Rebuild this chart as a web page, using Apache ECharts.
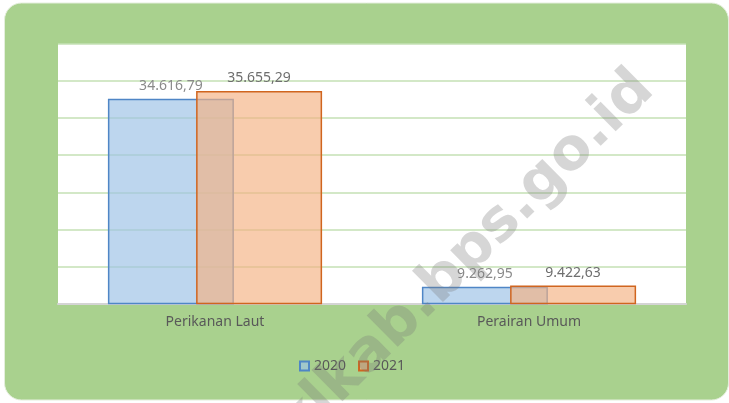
<!DOCTYPE html>
<html>
<head>
<meta charset="utf-8">
<script src="https://cdn.jsdelivr.net/npm/echarts@6/dist/echarts.min.js"></script>
<style>
  html, body { margin: 0; padding: 0; background: #fff; }
  #chart { width: 729px; height: 403px; }
</style>
</head>
<body>
<div id="chart"></div>
<script>
  var categories = ['Perikanan Laut', 'Perairan Umum'];
  var seriesNames = ['2020', '2021'];
  var values2020 = [34616.79, 9262.95];
  var values2021 = [35655.29, 9422.63];

  // angka gaya Indonesia: 34.616,79
  function fmt(v) {
    var parts = v.toFixed(2).split('.');
    return parts[0].replace(/\B(?=(\d{3})+(?!\d))/g, '.') + ',' + parts[1];
  }

  var font = '"Noto Sans", sans-serif';
  var chart = echarts.init(document.getElementById('chart'));

  chart.setOption({
    animation: false,
    textStyle: { fontFamily: font },
    graphic: [
      {
        type: 'rect', z: -10, silent: true,
        shape: { x: 4.5, y: 3, width: 724, height: 397, r: 17 },
        style: { fill: '#a9d18e', stroke: '#e4eedc', lineWidth: 1 }
      },
      {
        type: 'text', z: 100, silent: true,
        x: 466, y: 258, rotation: 0.78,
        style: {
          text: 'klkab.bps.go.id',
          font: 'bold 58px "DejaVu Sans", sans-serif',
          fill: 'rgba(120,120,120,0.3)',
          align: 'center', verticalAlign: 'middle'
        }
      }
    ],
    grid: {
      left: 58, right: 43, top: 44, bottom: 99.5,
      show: true, backgroundColor: '#fff', borderWidth: 0
    },
    legend: {
      data: seriesNames,
      left: 294, top: 354,
      icon: 'rect', itemWidth: 9, itemHeight: 9, itemGap: 12,
      textStyle: { fontSize: 14, color: '#595959', fontFamily: font }
    },
    xAxis: {
      type: 'category',
      data: categories,
      axisLine: { lineStyle: { color: '#d4d4d4', width: 2 } },
      axisTick: { show: false },
      axisLabel: { fontSize: 14, color: '#595959', margin: 12 }
    },
    yAxis: [
      {
        type: 'value', min: 7000, max: 42000,
        show: false, splitLine: { show: false }
      },
      {
        // hanya untuk garis grid
        type: 'value', min: 0, max: 35000, interval: 5000,
        axisLine: { show: false }, axisTick: { show: false }, axisLabel: { show: false },
        splitLine: { lineStyle: { color: '#c5e0b4', width: 1.5 } }
      }
    ],
    series: [
      {
        name: seriesNames[0],
        type: 'bar',
        yAxisIndex: 0,
        data: values2020,
        barWidth: 126,
        barGap: '-30%',
        itemStyle: { color: 'rgba(157,195,230,0.68)', borderColor: '#4f86c6', borderWidth: 1.5 },
        label: {
          show: true, position: 'top', distance: 6,
          fontSize: 14, color: '#8a8a8a',
          formatter: function (p) { return fmt(p.value); }
        }
      },
      {
        name: seriesNames[1],
        type: 'bar',
        yAxisIndex: 0,
        data: values2021,
        barWidth: 126,
        barGap: '-30%',
        itemStyle: { color: 'rgba(244,177,131,0.66)', borderColor: '#d0651f', borderWidth: 1.5 },
        label: {
          show: true, position: 'top', distance: 6,
          fontSize: 14, color: '#6e6e6e',
          formatter: function (p) { return fmt(p.value); }
        }
      }
    ]
  });
</script>
</body>
</html>
